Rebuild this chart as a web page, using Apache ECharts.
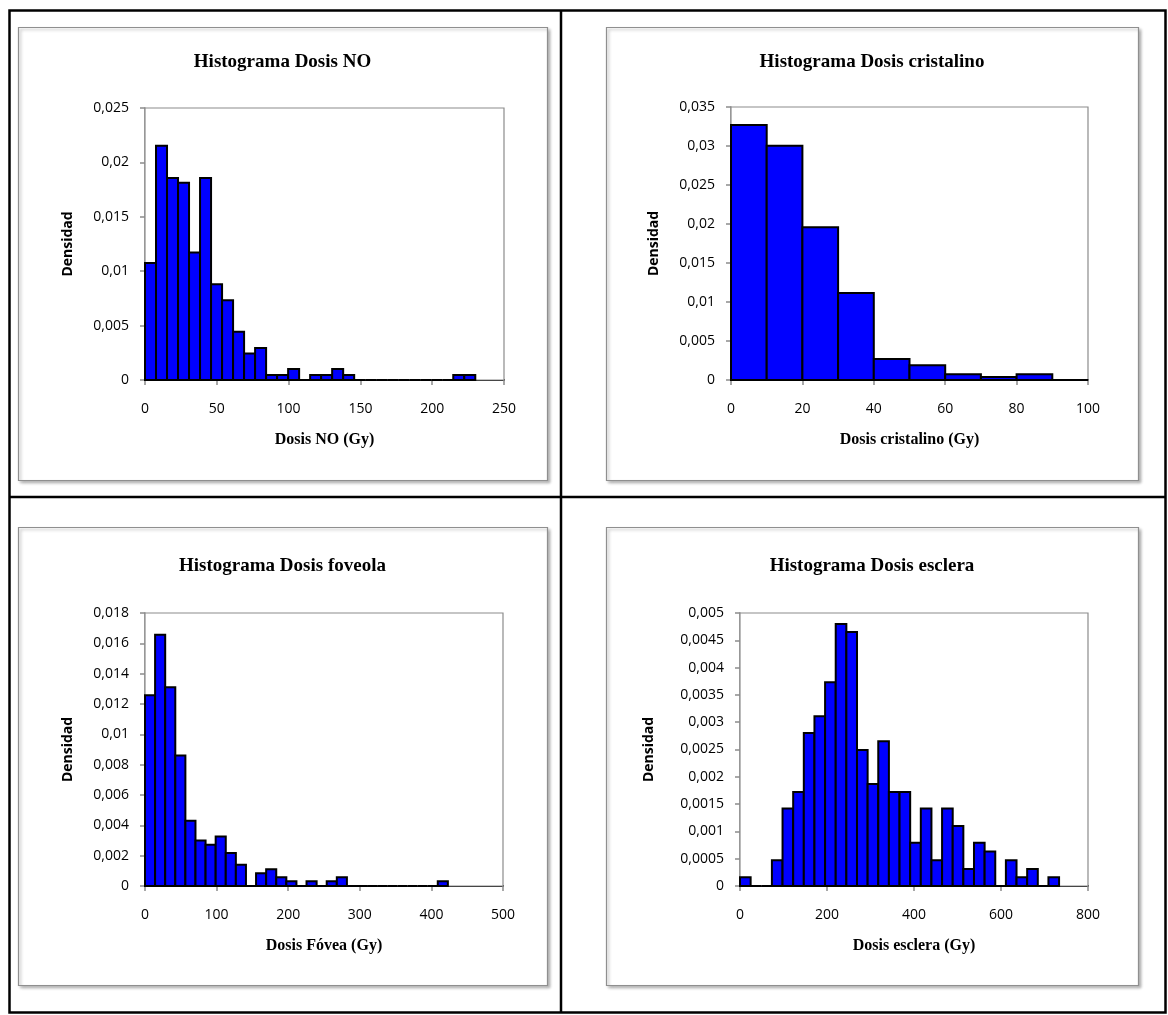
<!DOCTYPE html>
<html>
<head>
<meta charset="utf-8">
<script src="https://cdn.jsdelivr.net/npm/echarts@6/dist/echarts.min.js"></script>
<style>
  html, body { margin: 0; padding: 0; background: #ffffff; }
  #chart { width: 1168px; height: 1015px; }
</style>
</head>
<body>
<div id="chart"></div>
<script>
// Histogram densities, one value per bin (bins start at 0, equal width)
const noDensity = [0.01075, 0.02153, 0.01857, 0.01814, 0.01173, 0.01857, 0.0088, 0.00733, 0.00443, 0.00244,
                   0.00293, 0.00046, 0.00046, 0.001, 0, 0.00046, 0.00046, 0.001, 0.00046, 0,
                   0, 0, 0, 0, 0, 0, 0, 0, 0.00046, 0.00046];
const noBinWidth = 230 / 30;

const cristalinoDensity = [0.0327, 0.03004, 0.01957, 0.01115, 0.00269, 0.00188, 0.00073, 0.00038, 0.00073, 0];
const cristalinoBinWidth = 10;

const foveolaDensity = [0.01257, 0.01657, 0.01311, 0.0086, 0.0043, 0.003, 0.00272, 0.00326, 0.00218, 0.0014,
                        0, 0.00084, 0.0011, 0.00057, 0.00032, 0, 0.00032, 0, 0.00032, 0.00057,
                        0, 0, 0, 0, 0, 0, 0, 0, 0, 0.00032];
const foveolaBinWidth = 423 / 30;

const escleraDensity = [0.00016, 0, 0, 0.00047, 0.00142, 0.00172, 0.0028, 0.00311, 0.00373, 0.0048,
                        0.00465, 0.00249, 0.00187, 0.00265, 0.00172, 0.00172, 0.00079, 0.00142, 0.00047, 0.00142,
                        0.0011, 0.00031, 0.00079, 0.00063, 0, 0.00047, 0.00016, 0.00031, 0, 0.00016];
const escleraBinWidth = 733.5 / 30;

// Panel texts and axis ranges
const panelTitles = ['Histograma Dosis NO', 'Histograma Dosis cristalino', 'Histograma Dosis foveola', 'Histograma Dosis esclera'];
const xTitles = ['Dosis NO (Gy)', 'Dosis cristalino (Gy)', 'Dosis Fóvea (Gy)', 'Dosis esclera (Gy)'];
const yTitle = 'Densidad';
const xRanges = [[0, 250, 50], [0, 100, 20], [0, 500, 100], [0, 800, 200]];
const yRanges = [[0, 0.025, 0.005], [0, 0.035, 0.005], [0, 0.018, 0.002], [0, 0.005, 0.0005]];

const panels = [
  { values: noDensity, width: noBinWidth },
  { values: cristalinoDensity, width: cristalinoBinWidth },
  { values: foveolaDensity, width: foveolaBinWidth },
  { values: escleraDensity, width: escleraBinWidth }
];

// Layout: plot areas, chart frames and table cells
const grids = [
  { left: 145, top: 108, width: 359, height: 272 },
  { left: 731, top: 107, width: 357, height: 273 },
  { left: 145, top: 613, width: 358, height: 273 },
  { left: 740, top: 613, width: 348, height: 273 }
];
const frames = [
  { x: 18, y: 27, w: 529, h: 453 },
  { x: 606, y: 27, w: 532, h: 453 },
  { x: 18, y: 527, w: 529, h: 458 },
  { x: 606, y: 527, w: 532, h: 458 }
];
const titleY = [62, 62, 566, 566];
const yNameGaps = [70, 70, 70, 84];

const serif = '"Liberation Serif", "DejaVu Serif", serif';
const sans = '"Open Sans", "Liberation Sans", sans-serif';

function commaLabel(v) {
  return String(+v.toFixed(5)).replace('.', ',');
}

function histSeries(i) {
  const p = panels[i];
  return {
    type: 'custom',
    xAxisIndex: i,
    yAxisIndex: i,
    data: p.values.map((v, k) => [k * p.width, (k + 1) * p.width, v]),
    encode: { x: [0, 1], y: 2 },
    clip: false,
    z: 3,
    renderItem: function (params, api) {
      const a = api.coord([api.value(0), api.value(2)]);
      const b = api.coord([api.value(1), 0]);
      return {
        type: 'rect',
        shape: { x: a[0], y: a[1], width: b[0] - a[0], height: b[1] - a[1] },
        style: { fill: '#0000ff', stroke: '#000000', lineWidth: 2 }
      };
    }
  };
}

const graphics = [];
// table lines around the four panels
graphics.push({ type: 'rect', z: 0, shape: { x: 9.5, y: 10.5, width: 1156, height: 1002 },
  style: { fill: null, stroke: '#000', lineWidth: 2.5 } });
graphics.push({ type: 'line', shape: { x1: 561, y1: 10, x2: 561, y2: 1013 }, style: { stroke: '#000', lineWidth: 2.5 } });
graphics.push({ type: 'line', shape: { x1: 9, y1: 497, x2: 1166, y2: 497 }, style: { stroke: '#000', lineWidth: 2.5 } });
frames.forEach((f, i) => {
  graphics.push({ type: 'rect', z: 0, shape: { x: f.x + 0.5, y: f.y + 0.5, width: f.w, height: f.h },
    style: { fill: '#fff', stroke: '#8f8f8f', lineWidth: 1.2, shadowBlur: 3, shadowOffsetX: 2, shadowOffsetY: 2, shadowColor: 'rgba(0,0,0,0.3)' } });
  graphics.push({ type: 'text', z: 10, x: f.x + f.w / 2, y: titleY[i],
    style: { text: panelTitles[i], font: 'bold 19px ' + serif, fill: '#000', textAlign: 'center', textVerticalAlign: 'middle' } });
});

const option = {
  animation: false,
  backgroundColor: '#ffffff',
  graphic: graphics,
  grid: grids.map(g => ({ left: g.left, top: g.top, width: g.width, height: g.height, show: true,
    borderColor: '#8c8c8c', borderWidth: 1.2, backgroundColor: '#ffffff', z: 1 })),
  xAxis: xRanges.map((r, i) => ({
    type: 'value', gridIndex: i, min: r[0], max: r[1], interval: r[2],
    axisLine: { show: true, lineStyle: { color: '#000', width: 2 } },
    axisTick: { show: true, length: 5, lineStyle: { color: '#8c8c8c', width: 1.5 } },
    axisLabel: { color: '#000', fontFamily: sans, fontSize: 14, margin: 22 },
    splitLine: { show: false },
    name: xTitles[i], nameLocation: 'middle', nameGap: 52,
    nameTextStyle: { fontFamily: serif, fontWeight: 'bold', fontSize: 16, color: '#000' }
  })),
  yAxis: yRanges.map((r, i) => ({
    type: 'value', gridIndex: i, min: r[0], max: r[1], interval: r[2],
    axisLine: { show: true, lineStyle: { color: '#8c8c8c', width: 1.5 } },
    axisTick: { show: true, length: 5, lineStyle: { color: '#8c8c8c', width: 1.5 } },
    axisLabel: { color: '#000', fontFamily: sans, fontSize: 14, margin: 16, formatter: commaLabel },
    splitLine: { show: false },
    name: yTitle, nameLocation: 'middle', nameGap: yNameGaps[i], nameRotate: 90,
    nameTextStyle: { fontFamily: sans, fontWeight: 'bold', fontSize: 14, color: '#000' }
  })),
  series: [0, 1, 2, 3].map(histSeries)
};

const chart = echarts.init(document.getElementById('chart'), null, { renderer: 'canvas' });
chart.setOption(option);
</script>
</body>
</html>
